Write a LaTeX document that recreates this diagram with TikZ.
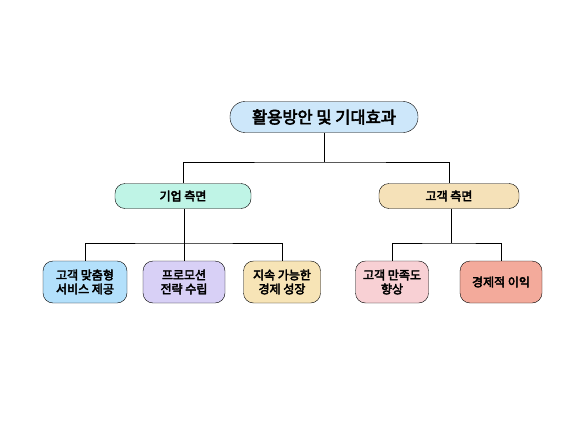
\documentclass[tikz,border=0pt]{standalone}
\usepackage{fontspec}
\setmainfont{Noto Sans CJK KR}[FakeBold=3.5]
\definecolor{rootblue}{HTML}{CDE7FA}
\definecolor{mint}{HTML}{BFF4E6}
\definecolor{tan}{HTML}{F5E1B8}
\definecolor{skyblue}{HTML}{B3E0FB}
\definecolor{lavender}{HTML}{D8D0F6}
\definecolor{paleyellow}{HTML}{F7E4B6}
\definecolor{pink}{HTML}{F8D0D4}
\definecolor{salmon}{HTML}{F3AA9B}

\begin{document}
\begin{tikzpicture}[x=1pt,y=-1pt,
    box/.style={draw=black,thin,rounded corners=10pt,align=center,font=\fontsize{12}{14}\selectfont,inner sep=2pt},
    leaf/.style={box,minimum height=42pt},
    mid/.style={box,minimum height=25pt},
    link/.style={black,thin}]
    \path[use as bounding box] (0,0) rectangle (577,433);

    % top
    \node [box,fill=rootblue,minimum width=188pt,minimum height=31pt,rounded corners=15pt,font=\fontsize{16.5}{19}\selectfont] (root) at (324,117) {활용방안 및 기대효과};

    % second row
    \node [mid,fill=mint,minimum width=136pt] (firm) at (183,196) {기업 측면};
    \node [mid,fill=tan,minimum width=140pt] (cust) at (449,196) {고객 측면};

    % leaves
    \node [leaf,fill=skyblue,minimum width=84pt] (svc) at (85,282) {고객 맞춤형\\서비스 제공};
    \node [leaf,fill=lavender,minimum width=82pt] (promo) at (184,282) {프로모션\\전략 수립};
    \node [leaf,fill=paleyellow,minimum width=77pt] (growth) at (282,282) {지속 가능한\\경제 성장};
    \node [leaf,fill=pink,minimum width=73pt] (satis) at (392,282) {고객 만족도\\향상};
    \node [leaf,fill=salmon,minimum width=82pt] (profit) at (501,282) {경제적 이익};

    \coordinate (rj) at (324,162);
    \coordinate (fj) at (184,243);
    \coordinate (cj) at (451,243);
    \draw [link] (root.south) -- (rj);
    \draw [link] (firm.north) |- (rj) -| (cust.north);
    \draw [link] (firm.south -| fj) -- (fj);
    \draw [link] (svc.north) |- (fj) -| (growth.north);
    \draw [link] (fj) -- (promo.north);
    \draw [link] (cust.south -| cj) -- (cj);
    \draw [link] (satis.north) |- (cj) -| (profit.north);
\end{tikzpicture}
\end{document}
